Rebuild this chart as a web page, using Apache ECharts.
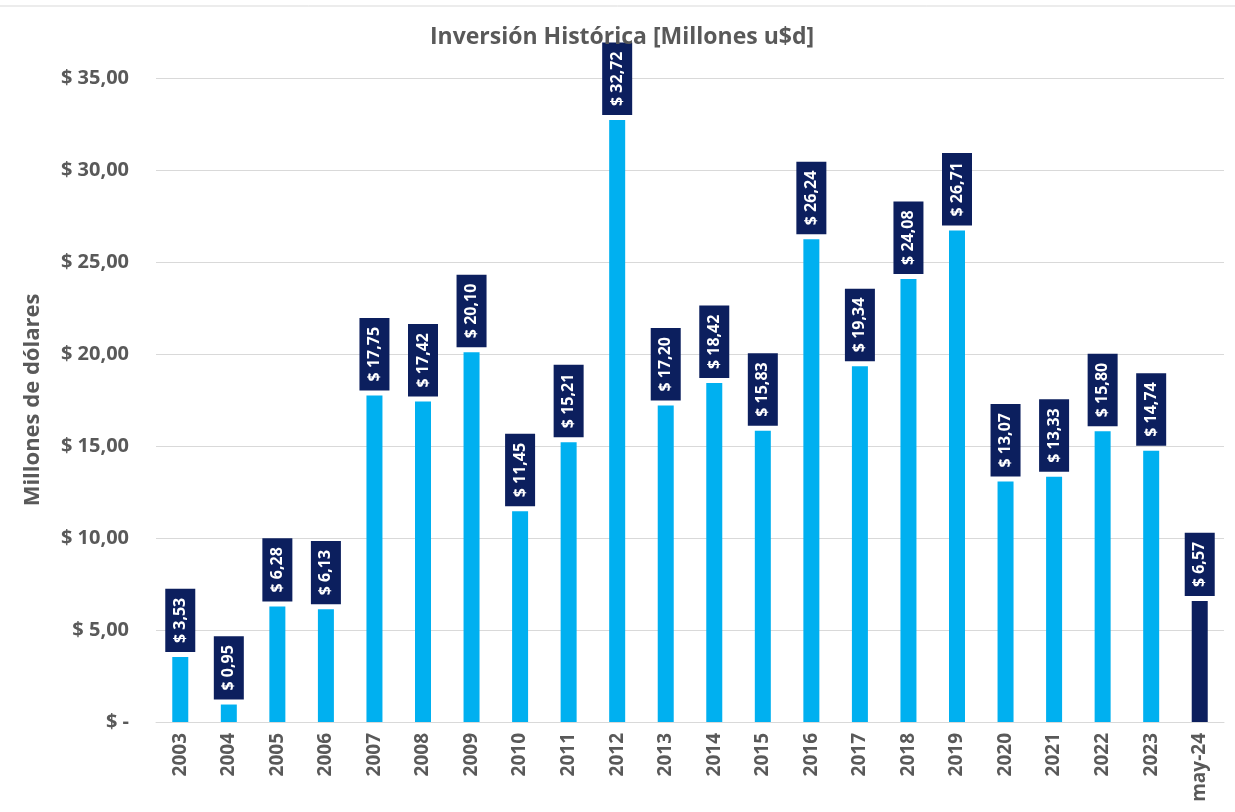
<!DOCTYPE html>
<html>
<head>
<meta charset="utf-8">
<script src="https://cdn.jsdelivr.net/npm/echarts@6/dist/echarts.min.js"></script>
<style>
  html, body { margin: 0; padding: 0; background: #fff; }
  #chart { width: 1235px; height: 812px; }
</style>
</head>
<body>
<div id="chart"></div>
<script>
const categories = ["2003", "2004", "2005", "2006", "2007", "2008", "2009", "2010", "2011", "2012",
    "2013", "2014", "2015", "2016", "2017", "2018", "2019", "2020", "2021", "2022", "2023", "may-24"];
const inversion = [3.53, 0.95, 6.28, 6.13, 17.75, 17.42, 20.10, 11.45, 15.21, 32.72,
    17.20, 18.42, 15.83, 26.24, 19.34, 24.08, 26.71, 13.07, 13.33, 15.80, 14.74, 6.57];
const yTicks = [0, 5, 10, 15, 20, 25, 30, 35];

const lightBlue = "#00B0F0";
const navy = "#0C1F5E";
const grey = "#595959";
const fmt = (v) => "$ " + v.toFixed(2).replace(".", ",");

const chart = echarts.init(document.getElementById("chart"));
const option = {
    animation: false,
    title: {
        text: "Inversión Histórica [Millones u$d]",
        left: 617,
        textAlign: "center",
        top: 21,
        textStyle: { fontFamily: "Open Sans", fontSize: 23, fontWeight: "bold", color: grey },
    },
    graphic: [
        { type: "line", shape: { x1: 0, y1: 6, x2: 1235, y2: 6 }, style: { stroke: "#d9d9d9", lineWidth: 1 } },
    ],
    grid: { left: 156, right: 11, top: 78, bottom: 90 },
    xAxis: {
        type: "category",
        data: categories,
        axisTick: { show: false },
        axisLine: { lineStyle: { color: "#d9d9d9" } },
        axisLabel: { rotate: 90, color: grey, fontFamily: "Open Sans", fontSize: 19, fontWeight: "bold", margin: 11 },
    },
    yAxis: {
        type: "value",
        min: 0,
        max: yTicks[yTicks.length - 1],
        interval: 5,
        name: "Millones de dólares",
        nameLocation: "middle",
        nameGap: 112,
        nameTextStyle: { fontFamily: "Open Sans", fontSize: 22, fontWeight: "bold", color: grey },
        axisLabel: {
            color: grey, fontFamily: "Open Sans", fontSize: 20, fontWeight: "bold", margin: 27,
            formatter: (v) => (v === 0 ? "$ -" : fmt(v)),
        },
        splitLine: { lineStyle: { color: "#d9d9d9" } },
    },
    series: [
        {
            type: "bar",
            barWidth: 16,
            data: inversion.map((v, i) => ({
                value: v,
                itemStyle: { color: i === inversion.length - 1 ? navy : lightBlue },
            })),
            label: {
                show: true,
                position: "top",
                rotate: 90,
                align: "left",
                verticalAlign: "middle",
                distance: 5,
                formatter: (p) => fmt(p.value),
                color: "#fff",
                fontFamily: "Open Sans",
                fontSize: 16,
                lineHeight: 18,
                fontWeight: "bold",
                backgroundColor: navy,
                padding: [6, 9, 6, 9],
            },
        },
    ],
};
chart.setOption(option);
</script>
</body>
</html>
